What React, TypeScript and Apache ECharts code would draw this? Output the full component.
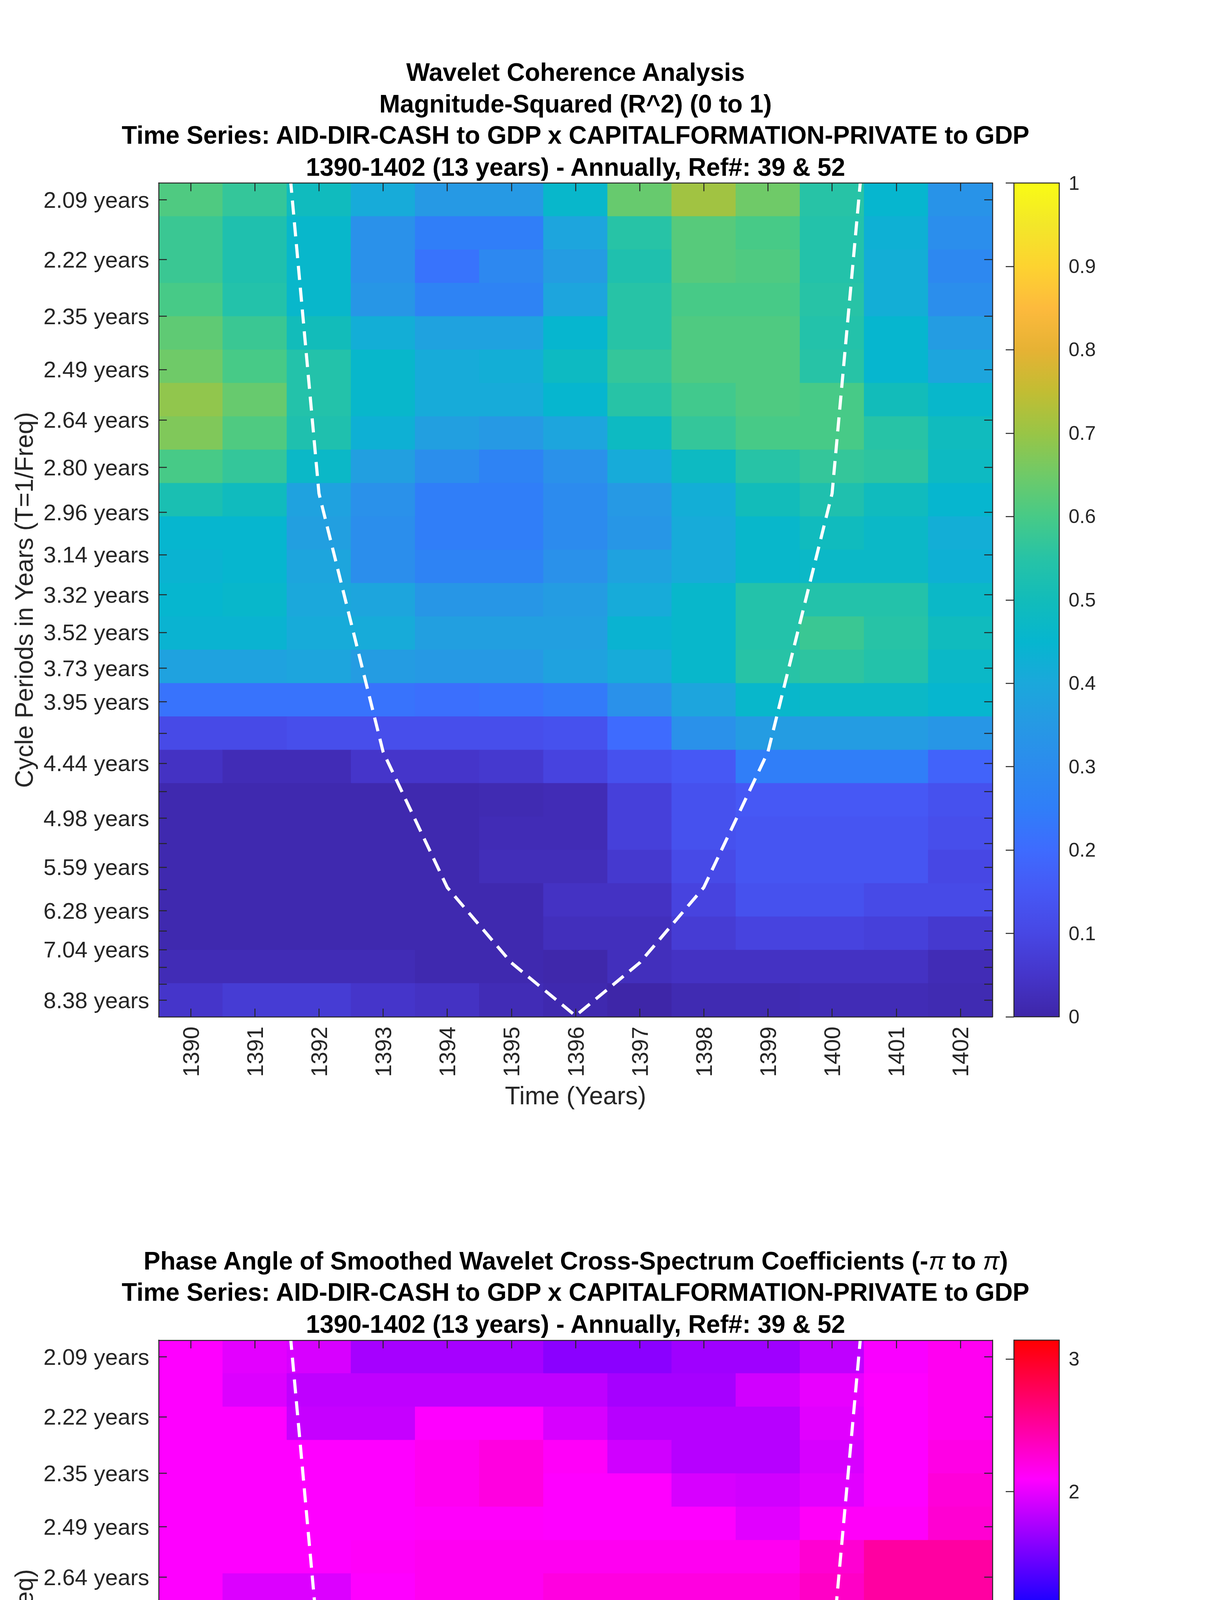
import React, { useEffect, useRef } from "react";
import * as echarts from "echarts";

// ---------------- DATA ----------------
const years = ["1390", "1391", "1392", "1393", "1394", "1395", "1396", "1397", "1398", "1399", "1400", "1401", "1402"];

// wavelet periods (years), one per row, top to bottom
const periods = [
  2.0945, 2.219, 2.351, 2.4908, 2.6389, 2.7958, 2.9621, 3.1382, 3.3248, 3.5225, 3.732, 3.9539, 4.189,
  4.4381, 4.702, 4.9816, 5.2778, 5.5916, 5.9241, 6.2764, 6.6496, 7.044, 7.464, 7.9078, 8.378,
];
const periodLabels = [
  "2.09 years", "2.22 years", "2.35 years", "2.49 years", "2.64 years", "2.80 years", "2.96 years",
  "3.14 years", "3.32 years", "3.52 years", "3.73 years", "3.95 years", "", "4.44 years", "",
  "4.98 years", "", "5.59 years", "", "6.28 years", "", "7.04 years", "", "", "8.38 years",
];

// magnitude-squared coherence, rows = periods (top to bottom), cols = years
const coherence = [
  [0.61, 0.57, 0.49, 0.41, 0.35, 0.35, 0.46, 0.64, 0.71, 0.65, 0.55, 0.45, 0.33],
  [0.58, 0.53, 0.46, 0.32, 0.25, 0.25, 0.39, 0.55, 0.62, 0.6, 0.54, 0.43, 0.31],
  [0.58, 0.53, 0.46, 0.32, 0.22, 0.29, 0.36, 0.53, 0.62, 0.61, 0.54, 0.42, 0.29],
  [0.6, 0.54, 0.46, 0.34, 0.27, 0.27, 0.39, 0.55, 0.6, 0.6, 0.55, 0.42, 0.31],
  [0.63, 0.58, 0.5, 0.42, 0.38, 0.38, 0.45, 0.55, 0.61, 0.61, 0.54, 0.45, 0.36],
  [0.65, 0.6, 0.54, 0.46, 0.41, 0.42, 0.48, 0.57, 0.61, 0.61, 0.55, 0.45, 0.39],
  [0.69, 0.64, 0.54, 0.46, 0.41, 0.41, 0.45, 0.55, 0.59, 0.61, 0.6, 0.5, 0.46],
  [0.67, 0.61, 0.53, 0.43, 0.37, 0.35, 0.39, 0.48, 0.57, 0.6, 0.6, 0.55, 0.49],
  [0.6, 0.57, 0.47, 0.37, 0.31, 0.27, 0.32, 0.41, 0.48, 0.55, 0.57, 0.56, 0.48],
  [0.52, 0.49, 0.38, 0.32, 0.25, 0.25, 0.3, 0.35, 0.42, 0.5, 0.53, 0.49, 0.45],
  [0.45, 0.45, 0.37, 0.31, 0.25, 0.25, 0.3, 0.34, 0.41, 0.46, 0.49, 0.47, 0.42],
  [0.44, 0.45, 0.39, 0.31, 0.27, 0.27, 0.32, 0.38, 0.41, 0.46, 0.47, 0.47, 0.43],
  [0.45, 0.46, 0.4, 0.39, 0.34, 0.34, 0.36, 0.41, 0.46, 0.54, 0.54, 0.54, 0.47],
  [0.44, 0.44, 0.41, 0.41, 0.37, 0.37, 0.37, 0.44, 0.46, 0.54, 0.58, 0.55, 0.49],
  [0.38, 0.38, 0.39, 0.36, 0.35, 0.35, 0.38, 0.41, 0.46, 0.55, 0.56, 0.54, 0.47],
  [0.22, 0.22, 0.22, 0.22, 0.21, 0.22, 0.24, 0.32, 0.39, 0.46, 0.47, 0.47, 0.45],
  [0.11, 0.11, 0.12, 0.12, 0.12, 0.12, 0.13, 0.2, 0.32, 0.36, 0.36, 0.36, 0.34],
  [0.04, 0.02, 0.02, 0.05, 0.05, 0.06, 0.09, 0.13, 0.15, 0.25, 0.25, 0.25, 0.18],
  [0.01, 0.01, 0.01, 0.01, 0.01, 0.015, 0.02, 0.08, 0.13, 0.15, 0.15, 0.15, 0.13],
  [0.01, 0.01, 0.01, 0.01, 0.01, 0.02, 0.02, 0.08, 0.13, 0.14, 0.14, 0.14, 0.12],
  [0.01, 0.01, 0.01, 0.01, 0.01, 0.025, 0.025, 0.06, 0.11, 0.14, 0.14, 0.14, 0.1],
  [0.01, 0.01, 0.01, 0.01, 0.01, 0.01, 0.04, 0.04, 0.09, 0.13, 0.13, 0.11, 0.11],
  [0.01, 0.01, 0.01, 0.01, 0.01, 0.01, 0.03, 0.03, 0.07, 0.09, 0.09, 0.08, 0.06],
  [0.02, 0.02, 0.02, 0.02, 0.01, 0.01, 0.005, 0.03, 0.04, 0.04, 0.04, 0.04, 0.02],
  [0.05, 0.07, 0.07, 0.05, 0.04, 0.02, 0.01, 0.0, 0.015, 0.015, 0.02, 0.02, 0.015],
];

// phase angle (radians), rows = periods (top to bottom), cols = years
const phase = [
  [2.09, 1.98, 1.93, 1.73, 1.73, 1.73, 1.62, 1.62, 1.7, 1.7, 1.83, 2.07, 2.15],
  [2.09, 1.95, 1.83, 1.83, 1.83, 1.83, 1.83, 1.73, 1.73, 1.9, 2.0, 2.09, 2.15],
  [2.09, 2.09, 1.86, 1.86, 2.09, 2.09, 1.93, 1.8, 1.8, 1.8, 1.97, 2.09, 2.15],
  [2.09, 2.09, 2.09, 2.09, 2.15, 2.22, 2.12, 1.9, 1.8, 1.8, 1.93, 2.09, 2.2],
  [2.09, 2.09, 2.09, 2.09, 2.15, 2.22, 2.09, 2.09, 1.93, 1.9, 1.97, 2.09, 2.25],
  [2.09, 2.09, 2.09, 2.09, 2.11, 2.11, 2.09, 2.09, 2.09, 1.97, 2.12, 2.12, 2.28],
  [2.09, 2.09, 2.09, 2.12, 2.15, 2.15, 2.15, 2.15, 2.15, 2.15, 2.28, 2.48, 2.48],
  [2.09, 1.95, 1.95, 2.09, 2.15, 2.15, 2.22, 2.22, 2.22, 2.22, 2.33, 2.48, 2.48],
  [2.09, 1.95, 1.95, 2.09, 2.15, 2.22, 2.22, 2.38, 2.41, 2.41, 2.44, 2.55, 2.55],
  [2.09, 2.09, 2.09, 2.09, 2.15, 2.36, 2.44, 2.44, 2.55, 2.55, 2.68, 2.68, 2.68],
  [2.15, 2.15, 2.15, 2.33, 2.41, 2.41, 2.48, 2.62, 2.62, 2.68, 2.74, 2.74, 2.74],
  [2.33, 2.33, 2.33, 2.41, 2.41, 2.55, 2.62, 2.74, 2.81, 2.88, 2.88, 2.88, 2.88],
  [2.44, 2.33, 2.33, 2.48, 2.48, 2.55, 2.68, 2.81, 2.81, 2.88, 2.88, 2.88, 2.88],
  [2.41, 2.33, 2.33, 2.3, 2.41, 2.48, 2.55, 2.66, 2.74, 2.88, 2.88, 2.88, 2.88],
  [2.28, 2.12, 2.12, 2.15, 2.22, 2.36, 2.48, 2.68, 2.68, 2.74, 2.88, 2.88, 2.88],
  [2.28, 2.09, 2.09, 2.15, 2.15, 2.28, 2.41, 2.68, 2.68, 2.74, 2.74, 2.88, 2.88],
  [2.36, 2.09, 1.93, 1.97, 2.15, 2.22, 2.44, 2.68, 2.68, 2.88, 2.88, 2.94, 2.88],
  [2.41, 2.04, 1.83, 1.97, 2.12, 2.48, 2.81, 2.81, 2.88, 2.94, 3.0, 3.0, 3.0],
  [-2.88, -2.75, 3.13, 3.0, 3.13, 3.13, -3.04, -3.04, -3.04, -3.04, -3.04, -3.04, -3.04],
  [-2.39, -1.8, -1.68, -2.05, -2.75, -2.94, -3.04, -3.04, -3.04, -3.04, -3.04, -3.04, -2.94],
  [-2.09, -1.68, -1.68, -1.97, -2.65, -2.94, -3.04, -3.04, -3.04, -3.04, -3.04, -3.04, -2.94],
  [-1.83, -1.41, -1.35, -1.68, -2.65, -2.94, -3.04, -3.13, -3.13, -3.04, -3.04, -3.04, -2.94],
  [-1.41, -0.91, -0.91, -0.91, -1.87, -2.94, -3.04, -3.13, -3.13, -3.04, -3.04, -2.94, -2.84],
  [-0.91, -0.75, -0.72, -0.72, -0.79, -1.45, -2.57, -2.84, -2.94, -2.94, -2.84, -2.84, -2.68],
  [-0.81, -0.75, -0.69, -0.69, -0.75, -0.91, -1.35, -1.87, -2.18, -2.36, -2.36, -2.25, -2.05],
];

// cone of influence (period in years at each year)
const coiYears = ["1391", "1392", "1393", "1394", "1395", "1396", "1397", "1398", "1399", "1400", "1401"];
const coiPeriods = [1.51, 2.89, 4.34, 5.89, 7.35, 8.9, 7.35, 5.89, 4.34, 2.89, 1.51];

const coherenceTicks = [0, 0.1, 0.2, 0.3, 0.4, 0.5, 0.6, 0.7, 0.8, 0.9, 1];
const coherenceTickLabels = ["0", "0.1", "0.2", "0.3", "0.4", "0.5", "0.6", "0.7", "0.8", "0.9", "1"];
const phaseTicks = [-3, -2, -1, 0, 1, 2, 3];
const phaseTickLabels = ["\u22123", "\u22122", "\u22121", "0", "1", "2", "3"];

const parulaColors = [
  "#3E26A8", "#4535CA", "#4747E4", "#4658F5", "#3E6BFE", "#307EF8", "#2C8BEE", "#2699E4",
  "#1BA8DB", "#06B6CF", "#12BCBA", "#27C3A6", "#47CA87", "#6FCA68", "#99C546", "#C2BD33",
  "#E6B234", "#FDBA3D", "#FDD330", "#F3E729", "#F9FB15",
];
const hsvColors = ["#ff0000", "#ffff00", "#00ff00", "#00ffff", "#0000ff", "#ff00ff", "#ff0000"];

const titleTop = [
  "Wavelet Coherence Analysis",
  "Magnitude-Squared (R^2) (0 to 1)",
  "Time Series: AID-DIR-CASH to GDP x CAPITALFORMATION-PRIVATE to GDP",
  "1390-1402 (13 years) - Annually, Ref#: 39 & 52",
];
const titleBottom = [
  "Time Series: AID-DIR-CASH to GDP x CAPITALFORMATION-PRIVATE to GDP",
  "1390-1402 (13 years) - Annually, Ref#: 39 & 52",
];

// ---------------- LAYOUT ----------------
const W = 3125;
const H = 6252;
const PL = 406;
const PW = 2134;
const PH = 2134.4;
const TOP1 = 468.6;
const TOP2 = 3430.8;
const CBL = 2595;
const CBW = 116;
const FONT = "'Liberation Sans', Arial, Helvetica, sans-serif";
const INK = "#262626";
const TICK_FS = 58;
const LABEL_FS = 64;
const TITLE_FS = 64;
const CB_FS = 50;

const freqs = periods.map((p) => 1 / p);
const fTopRow = freqs[0];
const fBotRow = freqs[freqs.length - 1];
const rowStep = (fTopRow - fBotRow) / (periods.length - 1);
const yMax = fTopRow + rowStep / 2;
const yMin = fBotRow - rowStep / 2;
const rowCenter = periods.map((_, i) => fTopRow - i * rowStep);
const labelFreqs = freqs.filter((_, i) => periodLabels[i] !== "");

function labelFor(v: number) {
  for (let i = 0; i < freqs.length; i++) {
    if (Math.abs(freqs[i] - v) < 1e-9) return periodLabels[i];
  }
  return "";
}

function cellData(matrix: number[][]) {
  const out: number[][] = [];
  matrix.forEach((row, r) => row.forEach((v, c) => out.push([c, rowCenter[r], v])));
  return out;
}

const renderCell = (params: any, api: any) => {
  const c = api.value(0);
  const f = api.value(1);
  const p0 = api.coord([c, f + rowStep / 2]);
  const p1 = api.coord([c, f - rowStep / 2]);
  const bw = api.size([1, 0])[0];
  return {
    type: "rect",
    shape: { x: p0[0] - bw / 2 - 0.6, y: p0[1] - 0.6, width: bw + 1.2, height: p1[1] - p0[1] + 1.2 },
    style: { fill: api.visual("color"), stroke: null },
  };
};

const axisLineStyle = { color: INK, width: 2.5 };

function heatAxes(gridIndex: number) {
  const xBottom = {
    gridIndex,
    type: "category",
    data: years,
    position: "bottom",
    boundaryGap: true,
    axisLine: { show: true, onZero: false, lineStyle: axisLineStyle },
    axisTick: { show: true, inside: true, length: 21, alignWithLabel: true, interval: 0, lineStyle: axisLineStyle },
    axisLabel: { show: true, interval: 0, rotate: 90, margin: 25, color: INK, fontSize: TICK_FS, fontFamily: FONT },
    splitLine: { show: false },
    z: 5,
  };
  const xTop = {
    gridIndex,
    type: "category",
    data: years,
    position: "top",
    boundaryGap: true,
    axisLine: { show: true, onZero: false, lineStyle: axisLineStyle },
    axisTick: { show: true, inside: true, length: 21, alignWithLabel: true, interval: 0, lineStyle: axisLineStyle },
    axisLabel: { show: false },
    splitLine: { show: false },
    z: 5,
  };
  const yLeft = {
    gridIndex,
    type: "value",
    position: "left",
    min: yMin,
    max: yMax,
    axisLine: { show: true, onZero: false, lineStyle: axisLineStyle },
    axisTick: { show: true, inside: true, length: 21, customValues: freqs, lineStyle: axisLineStyle },
    axisLabel: {
      show: true,
      customValues: labelFreqs,
      formatter: (v: number) => labelFor(v),
      margin: 24,
      color: INK,
      fontSize: TICK_FS,
      fontFamily: FONT,
    },
    splitLine: { show: false },
    z: 5,
  };
  const yRight = {
    gridIndex,
    type: "value",
    position: "right",
    min: yMin,
    max: yMax,
    axisLine: { show: true, onZero: false, lineStyle: axisLineStyle },
    axisTick: { show: true, inside: true, length: 21, customValues: freqs, lineStyle: axisLineStyle },
    axisLabel: { show: false },
    splitLine: { show: false },
    z: 5,
  };
  return { xBottom, xTop, yLeft, yRight };
}

function colorbarAxes(gridIndex: number, min: number, max: number, ticks: number[], labels: string[]) {
  const x = { gridIndex, type: "value", show: false, min: 0, max: 1 };
  const y = {
    gridIndex,
    type: "value",
    position: "right",
    min,
    max,
    axisLine: { show: false },
    axisTick: { show: true, inside: true, length: 21, customValues: ticks, lineStyle: axisLineStyle },
    axisLabel: {
      show: true,
      customValues: ticks,
      margin: 24,
      color: INK,
      fontSize: CB_FS,
      fontFamily: FONT,
      formatter: (v: number) => {
        for (let i = 0; i < ticks.length; i++) if (Math.abs(ticks[i] - v) < 1e-9) return labels[i];
        return "";
      },
    },
    splitLine: { show: false },
    z: 12,
  };
  return { x, y };
}

function gradientBar(top: number, colors: string[]) {
  const stops = colors.map((c, i) => ({ offset: i / (colors.length - 1), color: c }));
  return {
    type: "rect",
    z: 5,
    shape: { x: CBL, y: top, width: CBW, height: PH },
    style: { fill: new echarts.graphic.LinearGradient(0, 1, 0, 0, stops), stroke: null },
    silent: true,
  };
}

function titleText(text: string, y: number) {
  return {
    type: "text",
    x: PL + PW / 2,
    y,
    z: 100,
    style: {
      text,
      fill: "#000",
      fontSize: TITLE_FS,
      fontWeight: "bold",
      fontFamily: FONT,
      textAlign: "center",
      textVerticalAlign: "middle",
    },
  };
}

function axisNameTexts(top: number) {
  return [
    {
      type: "text",
      x: 62,
      y: top + PH / 2,
      rotation: Math.PI / 2,
      z: 100,
      style: {
        text: "Cycle Periods in Years (T=1/Freq)",
        fill: INK,
        fontSize: LABEL_FS,
        fontFamily: FONT,
        textAlign: "center",
        textVerticalAlign: "middle",
      },
    },
    {
      type: "text",
      x: PL + PW / 2,
      y: top + 2336,
      z: 100,
      style: {
        text: "Time (Years)",
        fill: INK,
        fontSize: LABEL_FS,
        fontFamily: FONT,
        textAlign: "center",
        textVerticalAlign: "middle",
      },
    },
  ];
}

export default function App() {
  const ref = useRef<HTMLDivElement>(null);

  useEffect(() => {
    document.body.style.margin = "0";
    if (!ref.current) return;
    const chart = echarts.init(ref.current, undefined, { renderer: "svg" });

    const a1 = heatAxes(0);
    const a2 = heatAxes(2);
    const cb1 = colorbarAxes(1, 0, 1, coherenceTicks, coherenceTickLabels);
    const cb2 = colorbarAxes(3, -Math.PI, Math.PI, phaseTicks, phaseTickLabels);

    const coiData = coiYears.map((y, i) => [y, 1 / coiPeriods[i]]);

    const option: any = {
      animation: false,
      backgroundColor: "#ffffff",
      textStyle: { fontFamily: FONT },
      grid: [
        { left: PL, top: TOP1, width: PW, height: PH, containLabel: false },
        { left: CBL, top: TOP1, width: CBW, height: PH, show: true, borderColor: INK, borderWidth: 2.5, backgroundColor: "transparent", z: 10 },
        { left: PL, top: TOP2, width: PW, height: PH, containLabel: false },
        { left: CBL, top: TOP2, width: CBW, height: PH, show: true, borderColor: INK, borderWidth: 2.5, backgroundColor: "transparent", z: 10 },
      ],
      xAxis: [a1.xBottom, a1.xTop, cb1.x, a2.xBottom, a2.xTop, cb2.x],
      yAxis: [a1.yLeft, a1.yRight, cb1.y, a2.yLeft, a2.yRight, cb2.y],
      visualMap: [
        {
          type: "continuous",
          show: false,
          seriesIndex: 0,
          dimension: 2,
          min: 0,
          max: 1,
          inRange: { color: parulaColors },
        },
        {
          type: "continuous",
          show: false,
          seriesIndex: 2,
          dimension: 2,
          min: -Math.PI,
          max: Math.PI,
          inRange: { color: hsvColors },
        },
      ],
      series: [
        {
          type: "custom",
          xAxisIndex: 0,
          yAxisIndex: 0,
          renderItem: renderCell,
          data: cellData(coherence),
          encode: { x: 0, y: 1 },
          silent: true,
          clip: true,
          z: 1,
        },
        {
          type: "line",
          xAxisIndex: 0,
          yAxisIndex: 0,
          data: coiData,
          symbol: "none",
          clip: true,
          silent: true,
          lineStyle: { color: "#ffffff", width: 8, type: [36, 20] },
          z: 3,
        },
        {
          type: "custom",
          xAxisIndex: 3,
          yAxisIndex: 3,
          renderItem: renderCell,
          data: cellData(phase),
          encode: { x: 0, y: 1 },
          silent: true,
          clip: true,
          z: 1,
        },
        {
          type: "line",
          xAxisIndex: 3,
          yAxisIndex: 3,
          data: coiData,
          symbol: "none",
          clip: true,
          silent: true,
          lineStyle: { color: "#ffffff", width: 8, type: [36, 20] },
          z: 3,
        },
      ],
      graphic: [
        gradientBar(TOP1, parulaColors),
        gradientBar(TOP2, hsvColors),
        titleText(titleTop[0], 185),
        titleText(titleTop[1], 266),
        titleText(titleTop[2], 346),
        titleText(titleTop[3], 428),
        {
          type: "text",
          x: PL + PW / 2,
          y: 266 + 2962,
          z: 100,
          style: {
            text: "{b|Phase Angle of Smoothed Wavelet Cross-Spectrum Coefficients (-}{i|π}{b| to }{i|π}{b|)}",
            textAlign: "center",
            textVerticalAlign: "middle",
            rich: {
              b: { fontSize: TITLE_FS, fontWeight: "bold", fontFamily: FONT, fill: "#000", color: "#000" },
              i: { fontSize: TITLE_FS, fontStyle: "italic", fontWeight: "normal", fontFamily: FONT, fill: "#000", color: "#000" },
            },
          },
        },
        titleText(titleBottom[0], 346 + 2962),
        titleText(titleBottom[1], 428 + 2962),
        ...axisNameTexts(TOP1),
        ...axisNameTexts(TOP2),
      ],
    };

    chart.setOption(option);
    return () => chart.dispose();
  }, []);

  return <div ref={ref} style={{ width: W, height: H, background: "#fff" }} />;
}
